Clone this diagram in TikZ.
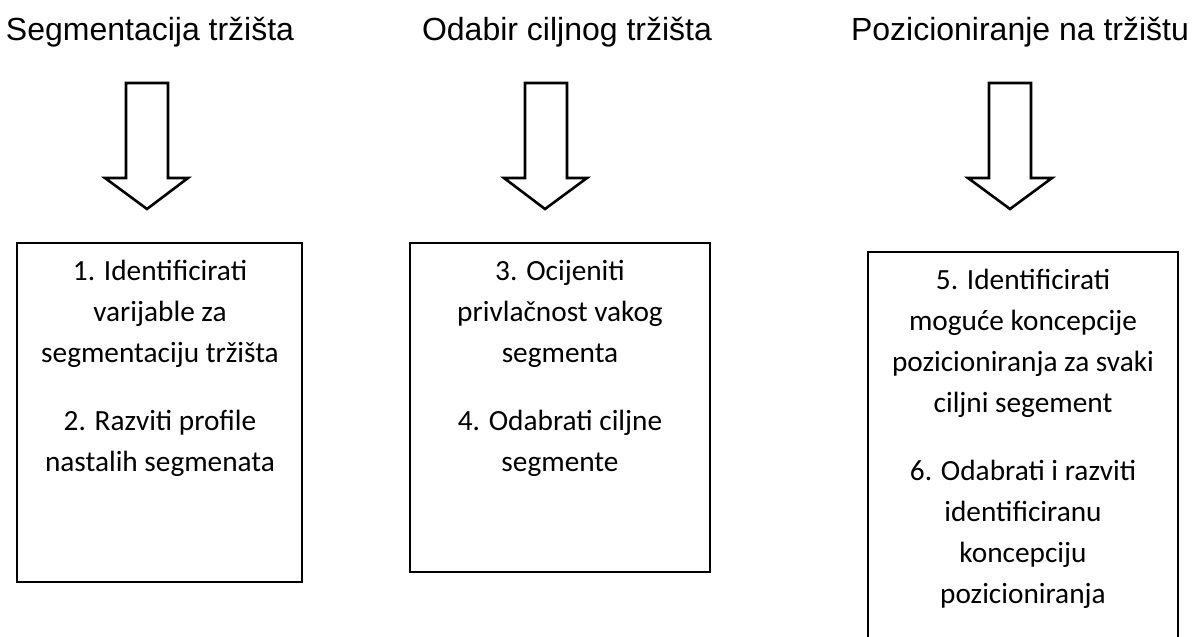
\documentclass[tikz,border=0pt]{standalone}
\usepackage{fontspec}
\setmainfont{Carlito}
\newfontfamily\headfont{Liberation Sans}
\usepackage{tikz}
\usetikzlibrary{calc}

\tikzset{
  headtext/.style={font=\headfont\fontsize{32}{38}\selectfont, inner sep=0pt, anchor=base},
  steptext/.style={font=\fontsize{29.3}{41}\selectfont, align=center, inner sep=0pt, anchor=north},
  stepframe/.style={line width=1.8pt},
  downarrow/.style={line width=2.6pt, line join=miter, fill=white}
}

\begin{document}
\begin{tikzpicture}[x=1pt, y=-1pt]
\useasboundingbox (0,0) rectangle (1195,637);
% naslovi
\node[headtext] (h1) at (150,40) {Segmentacija tržišta};
\node[headtext] (h2) at (567,40) {Odabir ciljnog tržišta};
\node[headtext] (h3) at (1020,40) {Pozicioniranje na tržištu};
% strelice
\draw[downarrow] (126,83) -- (168,83) -- (168,178) -- (188,178) -- (147,209) -- (105,178) -- (126,178) -- cycle;
\draw[downarrow] (525,83) -- (567,83) -- (567,178) -- (587,178) -- (545,209) -- (504,178) -- (525,178) -- cycle;
\draw[downarrow] (989,83) -- (1031,83) -- (1031,178) -- (1052,178) -- (1010,209) -- (968,178) -- (989,178) -- cycle;
% okviri
\draw[stepframe] (17,243) rectangle (302,582);
\draw[stepframe] (410,243) rectangle (710,572);
\draw[stepframe] (868,645) |- (1178,252) -- (1178,645);
% tekst u okvirima
\node[steptext] (b1) at (160,260) {1. Identificirati\\ varijable za\\ segmentaciju tržišta\\[27pt] 2. Razviti profile\\ nastalih segmenata};
\node[steptext] (b2) at (560,260) {3. Ocijeniti\\ privlačnost vakog\\ segmenta\\[27pt] 4. Odabrati ciljne\\ segmente};
\node[steptext] (b3) at (1023,269) {5. Identificirati\\ moguće koncepcije\\ pozicioniranja za svaki\\ ciljni segement\\[27pt] 6. Odabrati i razviti\\ identificiranu\\ koncepciju\\ pozicioniranja};
\end{tikzpicture}
\end{document}
